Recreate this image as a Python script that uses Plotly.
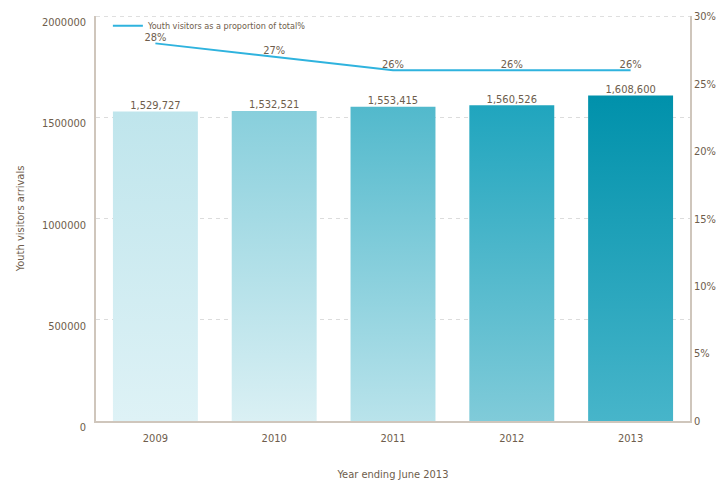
import plotly.graph_objects as go

years = ["2009", "2010", "2011", "2012", "2013"]
arrivals = [1529727, 1532521, 1553415, 1560526, 1608600]
proportion = [28, 27, 26, 26, 26]
bar_top_colors = ["#bfe5ec", "#88cfdc", "#52b9cc", "#20a5be", "#0091ab"]
bar_bottom_colors = ["#def2f6", "#daf0f4", "#b9e3eb", "#80cbd9", "#47b5ca"]

left_ticks = [0, 500000, 1000000, 1500000, 2000000]
right_ticks = [0, 5, 10, 15, 20, 25, 30]
right_labels = ["0", "5%", "10%", "15%", "20%", "25%", "30%"]

FONT = "Liberation Sans Narrow, DejaVu Sans Condensed, Roboto, sans-serif"
TXT = "#6e5d4c"
AX = "#cfc6bc"
GRID = "#dcdcdc"
bar_w = 0.715

fig = go.Figure()
for i, (v, ct, cb) in enumerate(zip(arrivals, bar_top_colors, bar_bottom_colors)):
    fig.add_trace(go.Scatter(
        x=[i - bar_w / 2, i - bar_w / 2, i + bar_w / 2, i + bar_w / 2, i - bar_w / 2],
        y=[0, v, v, 0, 0],
        fill="toself",
        mode="lines",
        line=dict(width=0, color=ct),
        fillgradient=dict(type="vertical", colorscale=[[0, cb], [1, ct]]),
        hoverinfo="skip",
        showlegend=False,
    ))

fig.add_trace(go.Scatter(
    x=list(range(len(years))), y=arrivals,
    mode="text",
    text=[f"{v:,}" for v in arrivals],
    textposition="top center",
    textfont=dict(family=FONT, size=11, color=TXT),
    showlegend=False, hoverinfo="skip",
))

fig.add_trace(go.Scatter(
    x=list(range(len(years))), y=proportion,
    yaxis="y2",
    mode="lines+text",
    name="Youth visitors as a proportion of total%",
    line=dict(color="#2fb3de", width=2),
    text=[f"{p}%" for p in proportion],
    textposition="top center",
    textfont=dict(family=FONT, size=11, color=TXT),
))

# top gridline (at the last left tick) drawn explicitly so it shows at the plot edge
fig.add_hline(y=left_ticks[-1], line=dict(color=GRID, width=1, dash="4px,4px"), layer="below")

fig.update_layout(
    width=728, height=481,
    margin=dict(l=96, r=38, t=16, b=60, autoexpand=False),
    paper_bgcolor="white", plot_bgcolor="white",
    font=dict(family=FONT, size=11, color=TXT),
    xaxis=dict(
        range=[-0.5, 4.5], automargin=False,
        tickvals=list(range(len(years))), ticktext=years,
        showgrid=False, zeroline=False,
        showline=True, linecolor=AX, linewidth=1.5,
        ticks="", ticklabelstandoff=6,
        tickfont=dict(size=11, color=TXT),
        title=dict(text="Year ending June 2013", font=dict(size=11, color=TXT), standoff=30),
    ),
    yaxis=dict(
        range=[0, 2002000], automargin=False,
        tickvals=left_ticks, tickformat="d",
        showgrid=True, gridcolor=GRID, griddash="4px,4px", gridwidth=1,
        zeroline=False,
        showline=True, linecolor=AX, linewidth=1.5,
        ticks="", ticklabelshift=6, ticklabelstandoff=6,
        tickfont=dict(size=11, color=TXT),
        title=dict(text="Youth visitors arrivals", font=dict(size=11, color=TXT), standoff=15),
    ),
    yaxis2=dict(
        range=[0, 30.03], overlaying="y", side="right", automargin=False,
        tickvals=right_ticks, ticktext=right_labels,
        showgrid=False, zeroline=False,
        showline=True, linecolor=AX, linewidth=1.5,
        ticks="", tickfont=dict(size=11, color=TXT),
    ),
    legend=dict(
        x=0.02, y=1.012, xanchor="left", yanchor="top",
        bgcolor="rgba(0,0,0,0)",
        font=dict(family=FONT, size=9, color=TXT),
    ),
)

fig.write_html("out.html")
